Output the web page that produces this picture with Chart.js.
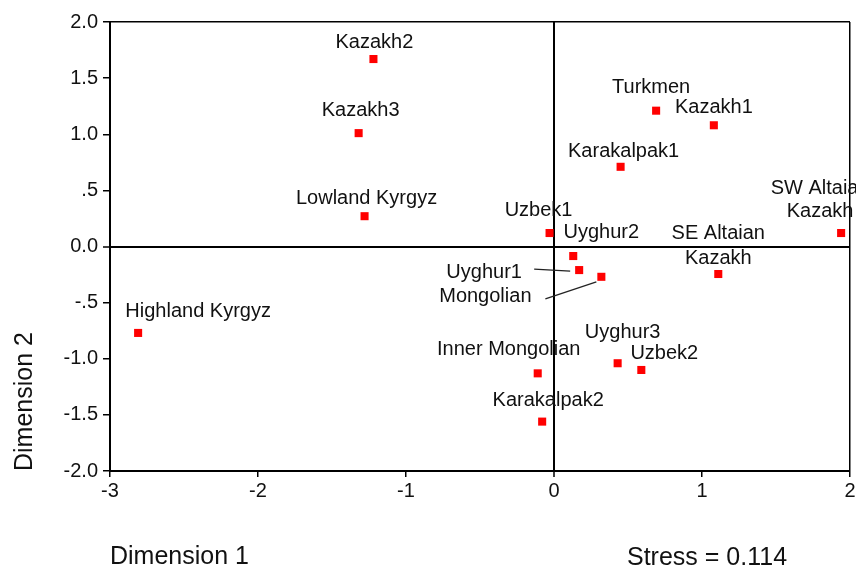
<!DOCTYPE html>
<html>
<head>
<meta charset="utf-8">
<script src="https://cdn.jsdelivr.net/npm/chart.js@4.4.1/dist/chart.umd.min.js"></script>
<style>
html,body{margin:0;padding:0;background:#fff;}
#wrap{width:856px;height:570px;}
</style>
</head>
<body>
<div id="wrap"><canvas id="c" width="856" height="570"></canvas></div>
<script>
// ---- data ----
const populations = ['Kazakh2','Kazakh3','Lowland Kyrgyz','Highland Kyrgyz','Uzbek1','Uyghur2','Uyghur1','Mongolian','Turkmen','Kazakh1','Karakalpak1','SW Altaian Kazakh','SE Altaian Kazakh','Uyghur3','Uzbek2','Inner Mongolian','Karakalpak2'];
const dimension1 = [-1.22,-1.32,-1.28,-2.81,-0.03,0.13,0.17,0.32,0.69,1.08,0.45,1.94,1.11,0.43,0.59,-0.11,-0.08];
const dimension2 = [1.67,1.01,0.27,-0.77,0.12,-0.085,-0.21,-0.27,1.21,1.08,0.71,0.12,-0.245,-1.04,-1.10,-1.13,-1.56];
const xTickLabels = ['-3','-2','-1','0','1','2'];
const yTickLabels = ['-2.0','-1.5','-1.0','-.5','0.0','.5','1.0','1.5','2.0'];
const stressText = 'Stress = 0.114';

// ---- label layout (offsets from the point, in px) ----
const labelLayout = {
  'Kazakh2': {lines:['Kazakh2'], dx:1, dy:[-17]},
  'Kazakh3': {lines:['Kazakh3'], dx:2, dy:[-23]},
  'Lowland Kyrgyz': {lines:['Lowland Kyrgyz'], dx:2, dy:[-18]},
  'Highland Kyrgyz': {lines:['Highland Kyrgyz'], dx:60, dy:[-21]},
  'Uzbek1': {lines:['Uzbek1'], dx:-11, dy:[-23]},
  'Uyghur2': {lines:['Uyghur2'], dx:28, dy:[-24]},
  'Uyghur1': {lines:['Uyghur1'], dx:-95, dy:[2], leader:[-45,-1,-9,1]},
  'Mongolian': {lines:['Mongolian'], dx:-116, dy:[20], leader:[-56,22,-5,5]},
  'Turkmen': {lines:['Turkmen'], dx:-5, dy:[-23]},
  'Kazakh1': {lines:['Kazakh1'], dx:0, dy:[-18]},
  'Karakalpak1': {lines:['Karakalpak1'], dx:3, dy:[-15]},
  'SW Altaian Kazakh': {lines:['SW Altaian','Kazakh'], dx:-21, dy:[-45,-22]},
  'SE Altaian Kazakh': {lines:['SE Altaian','Kazakh'], dx:0, dy:[-41,-16]},
  'Uyghur3': {lines:['Uyghur3'], dx:5, dy:[-31]},
  'Uzbek2': {lines:['Uzbek2'], dx:23, dy:[-16]},
  'Inner Mongolian': {lines:['Inner Mongolian'], dx:-29, dy:[-24]},
  'Karakalpak2': {lines:['Karakalpak2'], dx:6, dy:[-21]}
};

const FONT = "'Liberation Sans', Arial, Helvetica, sans-serif";
Chart.defaults.font.family = FONT;
Chart.defaults.color = '#111';

const labelPlugin = {
  id: 'pointLabels',
  afterDatasetsDraw(chart) {
    const ctx = chart.ctx;
    const meta = chart.getDatasetMeta(0);
    ctx.save();
    ctx.font = '20px ' + FONT;
    ctx.fillStyle = '#111';
    ctx.textAlign = 'center';
    ctx.textBaseline = 'middle';
    meta.data.forEach((pt, i) => {
      const lay = labelLayout[populations[i]];
      if (!lay) return;
      lay.lines.forEach((t, k) => ctx.fillText(t, pt.x + lay.dx, pt.y + lay.dy[k]));
      if (lay.leader) {
        const L = lay.leader;
        ctx.beginPath();
        ctx.strokeStyle = '#222';
        ctx.lineWidth = 1.2;
        ctx.moveTo(pt.x + L[0], pt.y + L[1]);
        ctx.lineTo(pt.x + L[2], pt.y + L[3]);
        ctx.stroke();
      }
    });
    // stress annotation
    ctx.font = '25px ' + FONT;
    ctx.textAlign = 'left';
    ctx.fillText(stressText, 627, 558);
    ctx.restore();
  }
};

const gridColor = (v) => (v === 0 || v === 2) ? '#000' : 'rgba(0,0,0,0)';
const gridWidth = (v) => v === 0 ? 2 : 1.5;

new Chart(document.getElementById('c'), {
  type: 'scatter',
  data: {
    datasets: [{
      data: dimension1.map((x, i) => ({x: x, y: dimension2[i]})),
      backgroundColor: '#ff0000',
      borderWidth: 0,
      pointStyle: 'rect',
      pointRadius: 5.7,
      pointHoverRadius: 5.7
    }]
  },
  options: {
    responsive: false,
    animation: false,
    events: [],
    layout: {padding: {top: 22, right: 6, left: 0, bottom: 0}},
    plugins: {legend: {display: false}, tooltip: {enabled: false}},
    scales: {
      x: {
        type: 'linear', min: -3, max: 2,
        ticks: {stepSize: 1, font: {size: 20}, color: '#111', padding: 2, maxRotation: 0,
          callback: (v, i) => xTickLabels[i]},
        grid: {color: c => gridColor(c.tick.value), lineWidth: c => gridWidth(c.tick.value),
          tickColor: '#000', tickLength: 6, tickWidth: 1.5},
        border: {display: true, color: '#000', width: 2},
        title: {display: true, text: 'Dimension 1', align: 'start', font: {size: 25, lineHeight: 1}, color: '#111', padding: 0},
        afterFit: s => { s.height = 99; s.paddingLeft = 0; s.paddingRight = 0; }
      },
      y: {
        type: 'linear', min: -2, max: 2,
        ticks: {stepSize: 0.5, font: {size: 20}, color: '#111', padding: 5,
          callback: (v, i) => yTickLabels[i]},
        grid: {color: c => gridColor(c.tick.value), lineWidth: c => gridWidth(c.tick.value),
          tickColor: '#000', tickLength: 7, tickWidth: 1.5},
        border: {display: true, color: '#000', width: 2},
        title: {display: true, text: 'Dimension 2', align: 'start', font: {size: 25, lineHeight: 1}, color: '#111', padding: {top: 13, bottom: 0}},
        afterFit: s => { s.width = 110; s.paddingTop = 0; s.paddingBottom = 0; }
      }
    }
  },
  plugins: [labelPlugin]
});
</script>
</body>
</html>
